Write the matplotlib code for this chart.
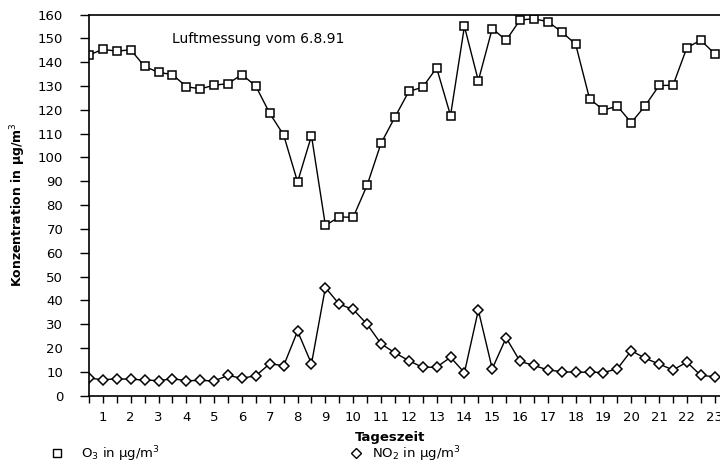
import matplotlib
matplotlib.use("Agg")
import matplotlib.pyplot as plt
from matplotlib.lines import Line2D
import numpy as np

# Half-hourly measurement times (hours)
times = [0.5, 1.0, 1.5, 2.0, 2.5, 3.0, 3.5, 4.0, 4.5, 5.0, 5.5, 6.0, 6.5, 7.0, 7.5,
         8.0, 8.5, 9.0, 9.5, 10.0, 10.5, 11.0, 11.5, 12.0, 12.5, 13.0, 13.5, 14.0,
         14.5, 15.0, 15.5, 16.0, 16.5, 17.0, 17.5, 18.0, 18.5, 19.0, 19.5, 20.0,
         20.5, 21.0, 21.5, 22.0, 22.5, 23.0]

o3 = [143.0, 145.4, 144.6, 145.2, 138.2, 135.7, 134.8, 129.7, 128.8, 130.3,
      131.0, 134.8, 129.9, 118.5, 109.4, 89.7, 109.1, 71.5, 75.0, 74.9,
      88.3, 105.9, 116.9, 127.7, 129.5, 137.6, 117.6, 155.0, 132.2, 154.1,
      149.2, 157.7, 158.2, 157.0, 152.7, 147.5, 124.6, 119.9, 121.5, 114.6,
      121.7, 130.2, 130.3, 146.1, 149.2, 143.5]

no2 = [7.4, 6.7, 7.1, 6.9, 6.6, 6.3, 7.1, 6.3, 6.4, 6.2,
       8.5, 7.3, 8.4, 13.4, 12.6, 27.1, 13.4, 45.4, 38.4, 36.2,
       30.0, 21.8, 18.0, 14.7, 11.9, 12.0, 16.1, 9.7, 35.9, 11.3,
       24.3, 14.4, 12.7, 10.8, 10.1, 9.8, 9.9, 9.7, 11.3, 18.9,
       15.7, 13.3, 10.8, 14.1, 8.5, 8.0]

hour_labels = list(range(1, 24))
y_ticks = list(range(0, 161, 10))

title_text = "Luftmessung vom 6.8.91"
x_label = "Tageszeit"
y_label = "Konzentration in µg/m$^3$"
o3_label = "O$_3$ in µg/m$^3$"
no2_label = "NO$_2$ in µg/m$^3$"

fig = plt.figure(figsize=(7.2, 4.66), dpi=100)
ax = fig.add_axes([89 / 720, (466 - 395.7) / 466, (720 - 89) / 720, (395.7 - 14.5) / 466])

ax.plot(times, o3, color="black", lw=1.0, marker="s", ms=5.6,
        mfc="white", mec="black", mew=1.1)
ax.plot(times, no2, color="black", lw=1.0, marker="D", ms=5.0,
        mfc="white", mec="black", mew=1.1)

ax.set_xlim(0.5, 23.19)
ax.set_ylim(0, 160)

half_ticks = np.arange(0.5, 23.01, 0.5)
ax.set_xticks(half_ticks)
ax.set_xticklabels([str(int(t)) if float(t).is_integer() else "" for t in half_ticks])
ax.set_yticks(y_ticks)
ax.set_yticklabels([str(v) for v in y_ticks])

ax.tick_params(axis="x", direction="out", length=5, width=1.0, pad=6, labelsize=9.5)
ax.tick_params(axis="y", direction="out", length=6.5, width=1.0, pad=12, labelsize=9.5)

for s in ["left", "bottom", "top"]:
    ax.spines[s].set_linewidth(1.2)
ax.spines["right"].set_visible(False)

ax.text(0.268, 0.935, title_text, transform=ax.transAxes, fontsize=10,
        ha="center", va="center")

fig.text(18 / 720, 1 - 205 / 466, y_label, rotation=90, ha="center", va="center",
         fontsize=9, fontweight="bold")
fig.text(390 / 720, 1 - 437 / 466, x_label, ha="center", va="center",
         fontsize=9.5, fontweight="bold")

h1 = Line2D([], [], ls="none", marker="s", ms=6, mfc="white", mec="black", mew=1.0)
h2 = Line2D([], [], ls="none", marker="D", ms=5, mfc="white", mec="black", mew=1.0)
fig.legend(handles=[h1], labels=[o3_label], loc="center left",
           bbox_to_anchor=(45 / 720, 1 - 454 / 466), frameon=False,
           fontsize=9.5, handlelength=1.0, handletextpad=1.3, borderaxespad=0)
fig.legend(handles=[h2], labels=[no2_label], loc="center left",
           bbox_to_anchor=(344 / 720, 1 - 454 / 466), frameon=False,
           fontsize=9.5, handlelength=1.0, handletextpad=0.7, borderaxespad=0)

fig.savefig("out.png", dpi=100)
